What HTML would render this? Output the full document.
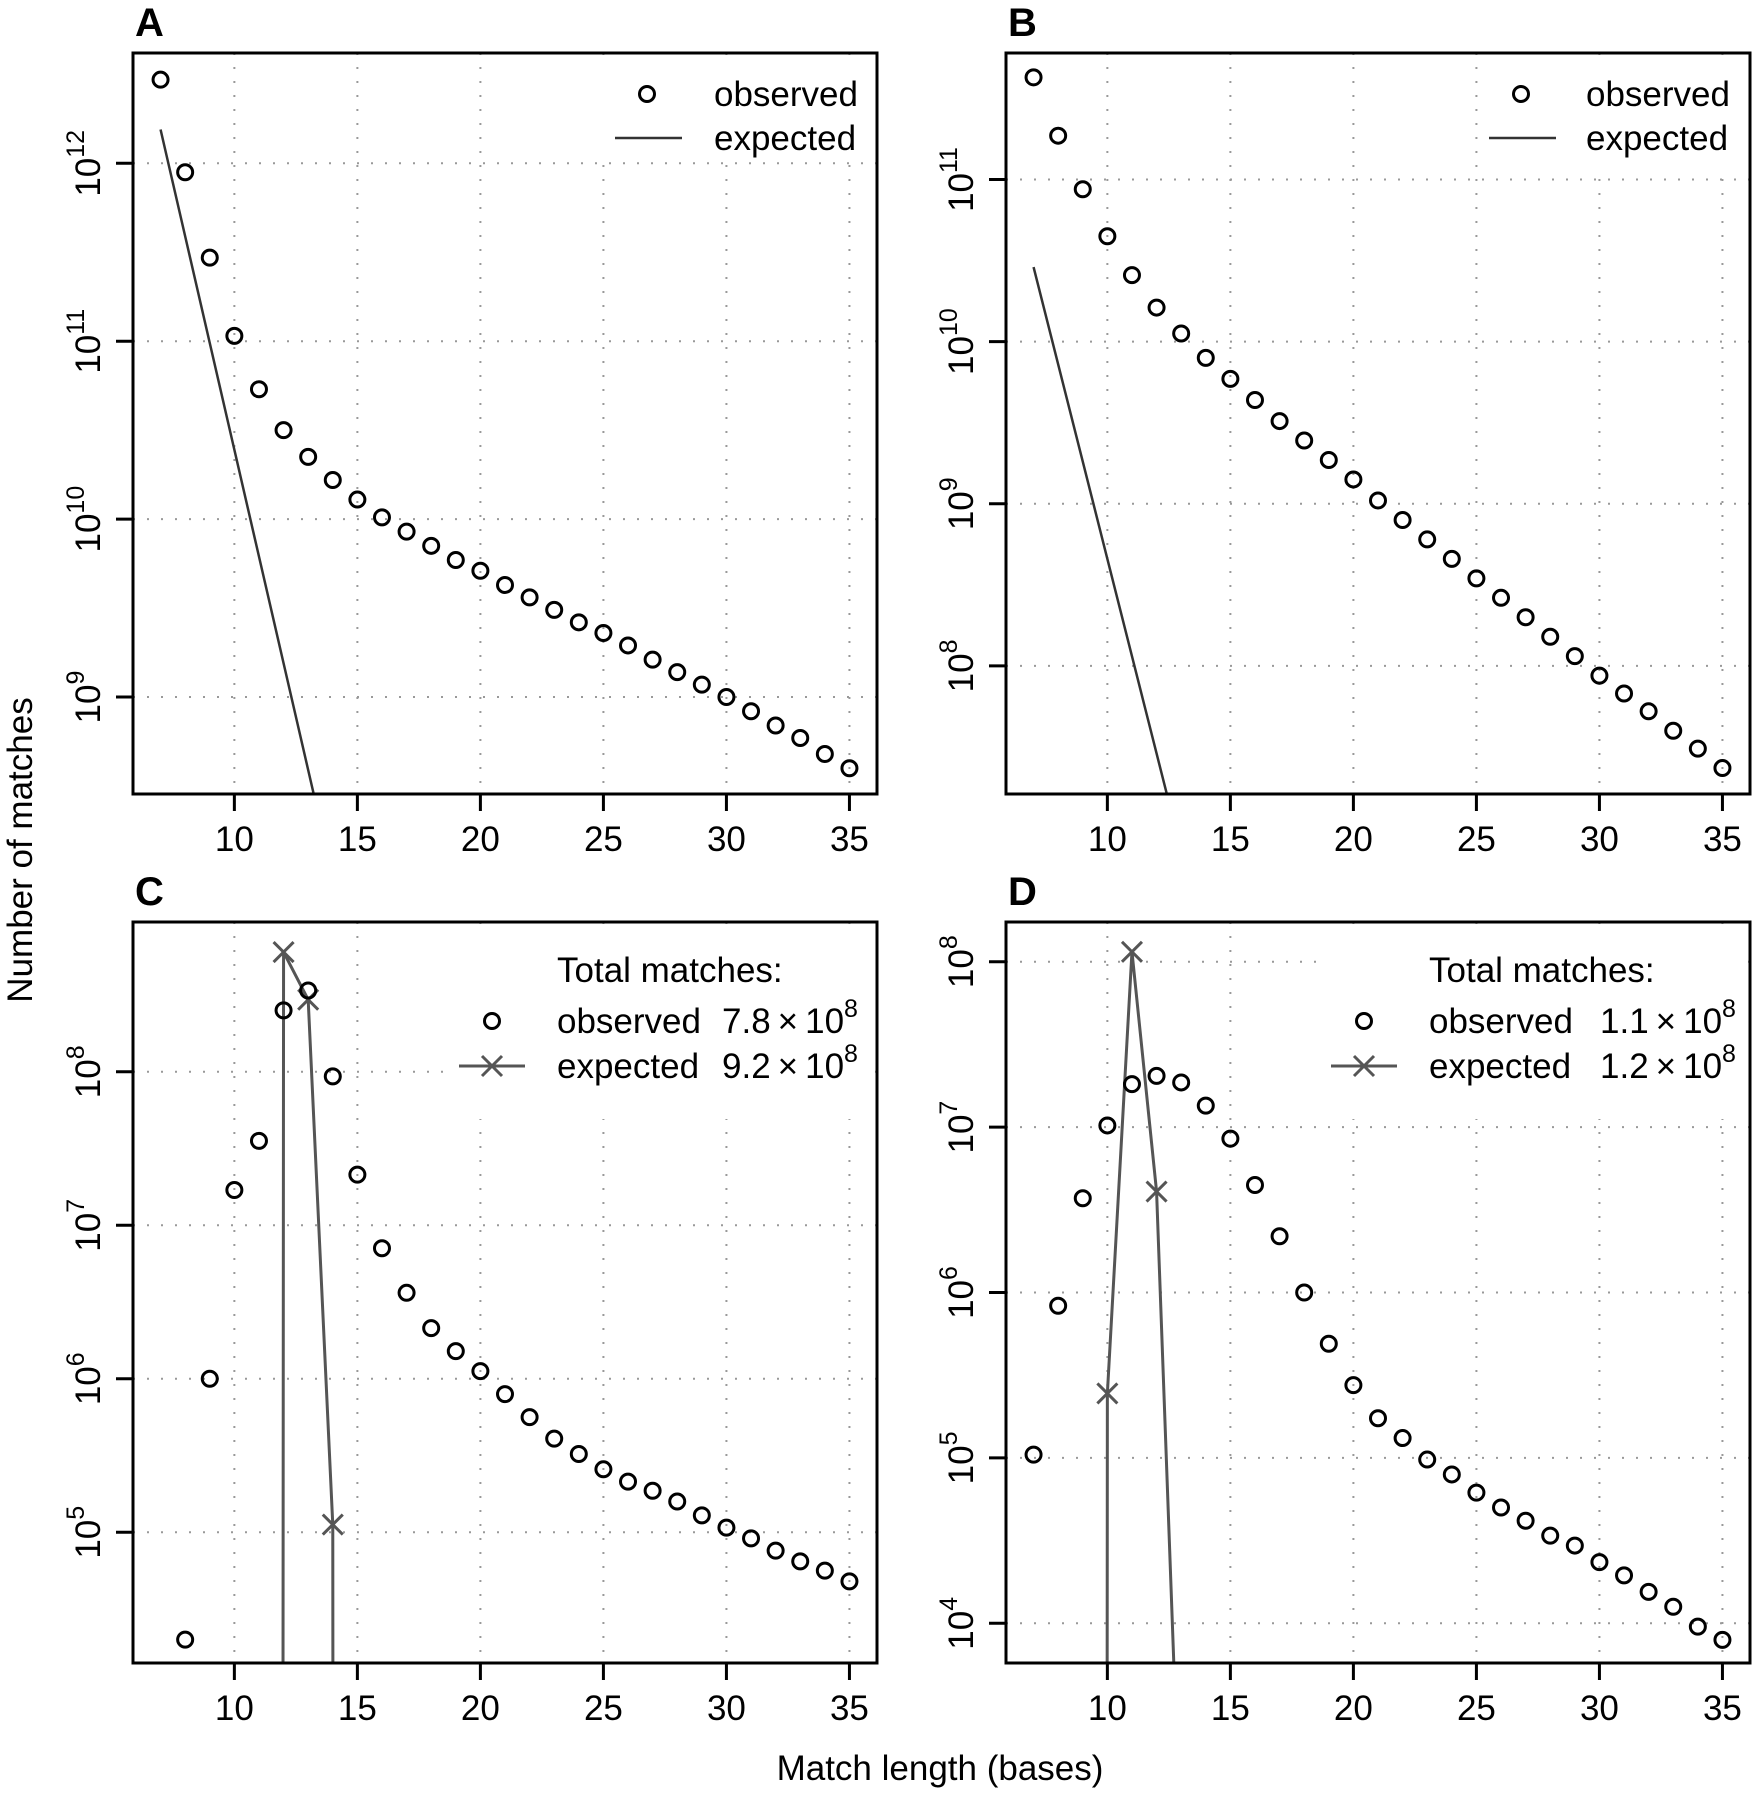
<!DOCTYPE html>
<html><head><meta charset="utf-8"><style>
html,body{margin:0;padding:0;background:#fff;overflow:hidden;width:1754px;height:1800px}
svg{display:block}
text{font-family:"Liberation Sans",Arial,sans-serif;fill:#000}
</style></head><body>
<svg id="fig" width="1754" height="1800" viewBox="0 0 1754 1800" xmlns="http://www.w3.org/2000/svg"></svg>
<script>
// x categories (match length)
const xsAll = [7,8,9,10,11,12,13,14,15,16,17,18,19,20,21,22,23,24,25,26,27,28,29,30,31,32,33,34,35];
const xTicks = [10,15,20,25,30,35];
// log10 of observed / expected counts
const obsA = [12.47,11.95,11.47,11.03,10.73,10.50,10.35,10.22,10.11,10.01,9.93,9.85,9.77,9.71,9.63,9.56,9.49,9.42,9.36,9.29,9.21,9.14,9.07,9.00,8.92,8.84,8.77,8.68,8.60];
const expAx = [7,8,9,10,11,12,13,14];
const expA = [12.19,11.59,10.99,10.39,9.79,9.19,8.59,7.99];
const obsB = [11.63,11.27,10.94,10.65,10.41,10.21,10.05,9.90,9.77,9.64,9.51,9.39,9.27,9.15,9.02,8.90,8.78,8.66,8.54,8.42,8.30,8.18,8.06,7.94,7.83,7.72,7.60,7.49,7.37];
const expBx = [7,8,9,10,11,12,13];
const expB = [10.46,9.86,9.26,8.66,8.06,7.46,6.86];
const obsCx = [8,9,10,11,12,13,14,15,16,17,18,19,20,21,22,23,24,25,26,27,28,29,30,31,32,33,34,35];
const obsC = [4.30,6.00,7.23,7.55,8.40,8.53,7.97,7.33,6.85,6.56,6.33,6.18,6.05,5.90,5.75,5.61,5.51,5.41,5.33,5.27,5.20,5.11,5.03,4.96,4.88,4.81,4.75,4.68];
const expCx = [11,12,13,14,15];
const expC = [-200,8.78,8.47,5.05,-200];
const obsD = [5.02,5.92,6.57,7.01,7.26,7.31,7.27,7.13,6.93,6.65,6.34,6.00,5.69,5.44,5.24,5.12,4.99,4.90,4.79,4.70,4.62,4.53,4.47,4.37,4.29,4.19,4.10,3.98,3.90];
const expDx = [9,10,11,12,13];
const expD = [-200,5.39,8.06,6.61,2.54];
const yTicksA = [9,10,11,12];
const yTicksB = [8,9,10,11];
const yTicksC = [5,6,7,8];
const yTicksD = [4,5,6,7,8];

const NS="http://www.w3.org/2000/svg";
const svg=document.getElementById('fig');
function el(tag,attrs,parent){const e=document.createElementNS(NS,tag);for(const k in attrs)e.setAttribute(k,attrs[k]);(parent||svg).appendChild(e);return e;}

function panel(cfg){
  const g=el('g',{});
  
  
  const L=cfg.left,R=L+744,T=cfg.top,B=cfg.top+741;
  const xmin=5.88,xmax=36.12;
  const sx=v=>L+(v-xmin)/(xmax-xmin)*(R-L);
  const sy=v=>B-(v-cfg.ymin)/(cfg.ymax-cfg.ymin)*(B-T);
  const clipId='clip'+cfg.id;
  const cp=el('clipPath',{id:clipId},g);
  el('rect',{x:L,y:T,width:R-L,height:B-T},cp);
  xTicks.forEach(t=>{const l=el('line',{x1:sx(t),x2:sx(t),y1:T,y2:B,stroke:'#999','stroke-width':2,'stroke-dasharray':'2 12'},g);
    
    });
  cfg.yTicks.forEach(t=>{const l=el('line',{x1:L,x2:R,y1:sy(t),y2:sy(t),stroke:'#999','stroke-width':2,'stroke-dasharray':'2 12'},g);
    
    });
  const lg=el('g',{},g);
  
  
  el('rect',{x:cfg.leg.bx,y:T+2,width:R-2-cfg.leg.bx,height:cfg.leg.bh,fill:'#fff'},lg);
  const eg=el('g',{'clip-path':'url(#'+clipId+')'},g);
  const pts=cfg.ex.map((x,i)=>sx(x)+','+sy(cfg.ey[i])).join(' ');
  const pl=el('polyline',{points:pts,fill:'none',stroke:cfg.marks?'#555':'#333','stroke-width':cfg.marks?3:2.5},eg);
  
  
  if(cfg.marks){cfg.ex.forEach((x,i)=>{const X=sx(x),Y=sy(cfg.ey[i]);if(Y>B||Y<T)return;
    const m=el('path',{d:`M${X-10},${Y-10}L${X+10},${Y+10}M${X-10},${Y+10}L${X+10},${Y-10}`,stroke:'#555','stroke-width':3},eg);
    
    });}
  cfg.ox.forEach((x,i)=>{const c=el('circle',{cx:sx(x),cy:sy(cfg.oy[i]),r:7.5,fill:'none',stroke:'#000','stroke-width':3},g);
    
    });
  const bx=el('rect',{x:L,y:T,width:R-L,height:B-T,fill:'none',stroke:'#000','stroke-width':3},g);
  
  
  xTicks.forEach(t=>{el('line',{x1:sx(t),x2:sx(t),y1:B,y2:B+17,stroke:'#000','stroke-width':3},g);
    const tx=el('text',{x:sx(t),y:B+57,'text-anchor':'middle','font-size':35},g);tx.textContent=t;
    
    });
  cfg.yTicks.forEach(t=>{const Y=sy(t);el('line',{x1:L-17,x2:L,y1:Y,y2:Y,stroke:'#000','stroke-width':3},g);
    const tx=el('text',{transform:`translate(${L-33},${Y}) rotate(-90)`,'text-anchor':'middle','font-size':35},g);
    
    
    const a=el('tspan',{},tx);a.textContent='10';
    const b=el('tspan',{'font-size':25,dy:-16},tx);b.textContent=String(t);});
  const pt=el('text',{x:L+2,y:T-17,'font-size':40,'font-weight':'bold'},g);pt.textContent=cfg.id;
  
  
  const lw=cfg.leg;
  if(!cfg.marks){
    el('circle',{cx:lw.cx,cy:T+41,r:7.5,fill:'none',stroke:'#000','stroke-width':3},lg);
    el('line',{x1:lw.cx-32,x2:lw.cx+35,y1:T+85,y2:T+85,stroke:'#333','stroke-width':2.5},lg);
    const t1=el('text',{x:lw.tx,y:T+53,'font-size':35},lg);t1.textContent='observed';
    const t2=el('text',{x:lw.tx,y:T+97,'font-size':35},lg);t2.textContent='expected';
  } else {
    const t0=el('text',{x:lw.tx,y:T+60,'font-size':35},lg);t0.textContent='Total matches:';
    el('circle',{cx:lw.cx,cy:T+99,r:7.5,fill:'none',stroke:'#000','stroke-width':3},lg);
    const ly=T+144;
    el('line',{x1:lw.cx-33,x2:lw.cx+33,y1:ly,y2:ly,stroke:'#555','stroke-width':3},lg);
    el('path',{d:`M${lw.cx-10},${ly-10}L${lw.cx+10},${ly+10}M${lw.cx-10},${ly+10}L${lw.cx+10},${ly-10}`,stroke:'#555','stroke-width':3},lg);
    const t1=el('text',{x:lw.tx,y:T+111,'font-size':35},lg);t1.textContent='observed';
    const v1=el('text',{x:lw.vx,y:T+111,'font-size':35},lg);
    v1.appendChild(document.createTextNode(lw.v1+'\u2009\u00d7\u200910'));
    const s1=el('tspan',{'font-size':25,dy:-16},v1);s1.textContent='8';
    const t2=el('text',{x:lw.tx,y:T+156,'font-size':35},lg);t2.textContent='expected';
    const v2=el('text',{x:lw.vx,y:T+156,'font-size':35},lg);
    v2.appendChild(document.createTextNode(lw.v2+'\u2009\u00d7\u200910'));
    const s2=el('tspan',{'font-size':25,dy:-16},v2);s2.textContent='8';
  }
}
panel({id:'A',left:133,top:53,ymin:8.455,ymax:12.62,yTicks:yTicksA,ox:xsAll,oy:obsA,ex:expAx,ey:expA,marks:false,
  leg:{bx:600,bh:104,cx:647,tx:714}});
panel({id:'B',left:1006,top:53,ymin:7.21,ymax:11.78,yTicks:yTicksB,ox:xsAll,oy:obsB,ex:expBx,ey:expB,marks:false,
  leg:{bx:1480,bh:115,cx:1521,tx:1586}});
panel({id:'C',left:133,top:922,ymin:4.148,ymax:8.976,yTicks:yTicksC,ox:obsCx,oy:obsC,ex:expCx,ey:expC,marks:true,
  leg:{bx:452,bh:195,cx:492,tx:557,vx:722,v1:'7.8',v2:'9.2'}});
panel({id:'D',left:1006,top:922,ymin:3.76,ymax:8.24,yTicks:yTicksD,ox:xsAll,oy:obsD,ex:expDx,ey:expD,marks:true,
  leg:{bx:1323,bh:195,cx:1364,tx:1429,vx:1600,v1:'1.1',v2:'1.2'}});
const yt=el('text',{transform:'translate(32,850) rotate(-90)','text-anchor':'middle','font-size':35});
yt.textContent='Number of matches';


const xt=el('text',{x:940,y:1780,'text-anchor':'middle','font-size':35});
xt.textContent='Match length (bases)';


</script>
</body></html>
